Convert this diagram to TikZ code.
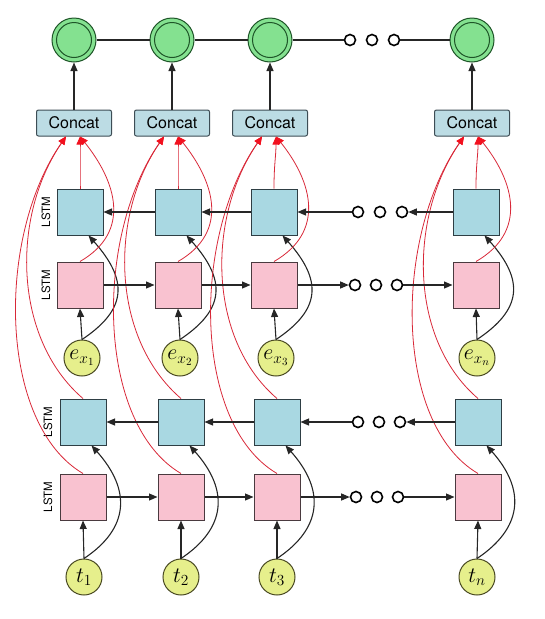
\RequirePackage{fix-cm}
\documentclass[tikz,border=0pt]{standalone}
\usepackage{fontspec}
\setsansfont{TeX Gyre Heros}
\usetikzlibrary{arrows.meta,calc}
\definecolor{gfill}{HTML}{84E190}
\definecolor{gline}{HTML}{1E5528}
\definecolor{cfill}{HTML}{BCDCE4}
\definecolor{cline}{HTML}{3D4D55}
\definecolor{bfill}{HTML}{A9D8E2}
\definecolor{bline}{HTML}{2E3E44}
\definecolor{pfill}{HTML}{F9C2D0}
\definecolor{pline}{HTML}{4A3A3F}
\definecolor{yfill}{HTML}{E6EF8C}
\definecolor{yline}{HTML}{4A4A22}
\definecolor{rline}{HTML}{D82838}
\definecolor{rhead}{HTML}{F2101E}
\begin{document}
\begin{tikzpicture}[x=1pt,y=-1pt,
  outc/.style={circle,minimum size=44pt,inner sep=0pt,fill=gfill,draw=gline,line width=1pt},
  concat/.style={rectangle,rounded corners=2pt,minimum width=75pt,minimum height=26pt,inner sep=0pt,
    fill=cfill,draw=cline,line width=1pt,font=\sffamily\fontsize{16}{16}\selectfont},
  bbox/.style={rectangle,minimum size=46pt,inner sep=0pt,fill=bfill,draw=bline,line width=1pt},
  pbox/.style={rectangle,minimum size=46pt,inner sep=0pt,fill=pfill,draw=pline,line width=1pt},
  ycirc/.style={circle,minimum size=36pt,inner sep=0pt,fill=yfill,draw=yline,line width=1pt,
    font=\fontsize{22}{22}\selectfont},
  dotc/.style={circle,minimum size=11pt,inner sep=0pt,fill=white,draw=black,line width=1.6pt},
  lstm/.style={rotate=90,font=\sffamily\fontsize{11.5}{11.5}\selectfont},
  blk/.style={draw=black!85,line width=1.1pt},
  arr/.style={blk,-{Triangle[length=8.5pt,width=7pt]}},
  rarr/.style={draw=rline,line width=0.8pt,-{Triangle[length=8pt,width=7pt,color=rhead]}}]
\useasboundingbox (0,0) rectangle (545,619);

\foreach \i/\a/\b/\c/\d/\e/\s in {1/74/80/82/83/84/1,2/172/178/180/181/181/2,3/270/274/276/277/277/3,4/472/476/477/478/477/n}{
  \node[outc] (o\i) at (\a,40) {};
  \draw[gline,line width=1pt] (o\i.center) circle (17.5pt);
  \node[concat] (c\i) at (\a,123) {Concat};
  \node[bbox] (ub\i) at (\b,212) {};
  \node[pbox] (up\i) at (\b,285) {};
  \node[ycirc] (ex\i) at (\c,358) {$e_{x_{\s}}$};
  \node[bbox] (lb\i) at (\d,422) {};
  \node[pbox] (lp\i) at (\d,497) {};
  \node[ycirc] (t\i) at (\e,577) {$t_{\s}$};
}

% LSTM labels
\node[lstm] (l1) at (46,212) {LSTM};
\node[lstm] (l2) at (46,285) {LSTM};
\node[lstm] (l3) at (48,422) {LSTM};
\node[lstm] (l4) at (48,497) {LSTM};

% dots
\foreach \n/\y/\xa/\xb/\xc in {td/40/350/372/394, ud/212/358/380/402, pd/285/355/376/397, lbd/422/358/379/400, lpd/497/356/377/398}{
  \node[dotc] (\n1) at (\xa,\y) {};
  \node[dotc] (\n2) at (\xb,\y) {};
  \node[dotc] (\n3) at (\xc,\y) {};
}

% top chain
\draw[blk] (o1) -- (o2);
\draw[blk] (o2) -- (o3);
\draw[blk] (o3) -- (td1);
\draw[blk] (td3) -- (o4);

\foreach \i in {1,2,3,4}{
  \draw[arr] (c\i.north) -- (o\i.south);
  \draw[arr] (ex\i.north) -- (up\i.south);
  \draw[arr] (ex\i.north) .. controls +(45,-30) and +(40,45) .. (ub\i.-70);
  \draw[arr] (t\i.north) -- (lp\i.south);
  \draw[arr] (t\i.north) .. controls +(45,-30) and +(40,45) .. (lb\i.-70);
  % red connections to concat
  \coordinate (cR\i) at ($(c\i.south)+(6,0)$);
  \coordinate (cL\i) at ($(c\i.south)+(-8,0)$);
  \draw[rarr] (ub\i.north) .. controls +(0,-25) and +(0,20) .. (cR\i);
  \draw[rarr] (up\i.north) .. controls +(52,-30) and +(36,45) .. (cR\i);
  \draw[rarr] (lb\i.north) .. controls +(-70,-60) and +(-55,80) .. (cL\i);
  \draw[rarr] (lp\i.north) .. controls +(-85,-50) and +(-70,100) .. (cL\i);
}

% horizontal recurrences
\draw[arr] (up1.east) -- (up2.west);
\draw[arr] (up2.east) -- (up3.west);
\draw[arr] (up3.east) -- (pd1.west);
\draw[arr] (pd3.east) -- (up4.west);
\draw[arr] (ub2.west) -- (ub1.east);
\draw[arr] (ub3.west) -- (ub2.east);
\draw[arr] (ud1.west) -- (ub3.east);
\draw[arr] (ub4.west) -- (ud3.east);

\draw[arr] (lp1.east) -- (lp2.west);
\draw[arr] (lp2.east) -- (lp3.west);
\draw[arr] (lp3.east) -- (lpd1.west);
\draw[arr] (lpd3.east) -- (lp4.west);
\draw[arr] (lb2.west) -- (lb1.east);
\draw[arr] (lb3.west) -- (lb2.east);
\draw[arr] (lbd1.west) -- (lb3.east);
\draw[arr] (lb4.west) -- (lbd3.east);
\end{tikzpicture}
\end{document}
